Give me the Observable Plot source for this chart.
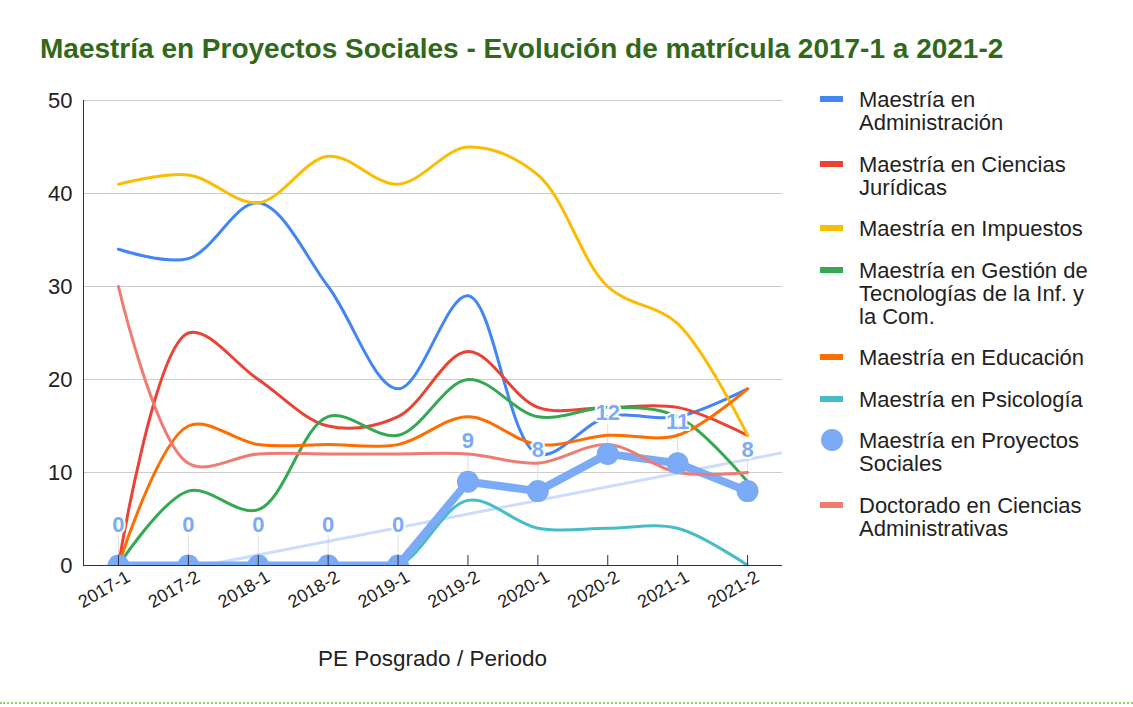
<!DOCTYPE html>
<html><head><meta charset="utf-8">
<script src="https://cdn.jsdelivr.net/npm/d3@7"></script>
<script src="https://cdn.jsdelivr.net/npm/@observablehq/plot@0.6"></script>
<style>
body{margin:0;background:#fff;font-family:Arial,"Liberation Sans",sans-serif;}
#wrap{position:relative;width:1133px;height:707px;overflow:hidden;}
#title{position:absolute;left:40px;top:35px;font-size:28px;font-weight:bold;color:#31691b;white-space:nowrap;line-height:1;}
#chart{position:absolute;left:0;top:80px;}
#xlabel{position:absolute;left:83px;width:699px;top:648px;text-align:center;font-size:22.5px;color:#222;line-height:1;}
#legend{position:absolute;left:820px;top:88px;}
.item{position:relative;padding-left:39px;line-height:23px;font-size:22px;color:#222;width:236px;margin-bottom:18.5px;}
.sw{position:absolute;left:0;top:8px;width:23px;height:6px;}
.dot{position:absolute;left:1px;top:0px;width:22px;height:22px;border-radius:50%;}
#dots{position:absolute;left:0;top:702px;width:1133px;border-top:2px dotted #9ccc65;}
</style>
</head><body>
<div id="wrap">
  <div id="title"></div>
  <div id="chart"></div>
  <div id="xlabel"></div>
  <div id="legend"></div>
  <div id="dots"></div>
</div>
<script>
const chartTitle = "Maestría en Proyectos Sociales - Evolución de matrícula 2017-1 a 2021-2";
const xTitle = "PE Posgrado / Periodo";
const periods = ["2017-1","2017-2","2018-1","2018-2","2019-1","2019-2","2020-1","2020-2","2021-1","2021-2"];
const seriesNames = [
  "Maestría en Administración",
  "Maestría en Ciencias Jurídicas",
  "Maestría en Impuestos",
  "Maestría en Gestión de Tecnologías de la Inf. y la Com.",
  "Maestría en Educación",
  "Maestría en Psicología",
  "Maestría en Proyectos Sociales",
  "Doctorado en Ciencias Administrativas"
];
const seriesColors = ["#4285f4","#ea4335","#fbbc04","#34a853","#ff6d01","#46bdc6","#7baaf7","#f07b72"];
const administracion = [34,33,39,30,19,29,12,16,16,19];
const juridicas      = [0,25,20,15,16,23,17,17,17,14];
const impuestos      = [41,42,39,44,41,45,42,30,26,14];
const gestionTIC     = [0,8,6,16,14,20,16,17,16,9];
const educacion      = [0,15,13,13,13,16,13,14,14,19];
const psicologia     = [0,0,0,0,0,7,4,4,4,0];
const proyectos      = [0,0,0,0,0,9,8,12,11,8];
const doctorado      = [30,11,12,12,12,12,11,13,10,10];
const yTicks = [0,10,20,30,40,50];

const values = [administracion, juridicas, impuestos, gestionTIC, educacion, psicologia, proyectos, doctorado];
const PROY = 6;
const rows = seriesNames.flatMap((name, s) => values[s].map((v, i) => ({name, s, i, v})));
const idx = periods.map((_, i) => i);
const proyRows = rows.filter(d => d.s === PROY);

// linear trendline for Proyectos Sociales
const mx = d3.mean(idx), my = d3.mean(proyectos);
const slope = d3.sum(idx, i => (i - mx) * (proyectos[i] - my)) / d3.sum(idx, i => (i - mx) ** 2);
const icpt = my - slope * mx;
const trend = [-0.5, periods.length - 0.5].map(x => ({x, y: icpt + slope * x}));

const marks = [
  Plot.ruleY(yTicks.filter(t => t > 0), {stroke: "#cccccc"}),
  Plot.ruleX(proyRows, {x: "i", y1: "v", y2: "v", insetTop: -30, stroke: "#dddddd"}),
  Plot.line(trend, {x: "x", y: "y", stroke: seriesColors[PROY], strokeOpacity: 0.4, strokeWidth: 3, clip: true})
];
seriesNames.forEach((name, s) => {
  const data = rows.filter(d => d.s === s);
  if (s === PROY) {
    marks.push(Plot.line(data, {x: "i", y: "v", stroke: seriesColors[s], strokeWidth: 8, clip: true}));
  } else {
    marks.push(Plot.line(data, {x: "i", y: "v", stroke: seriesColors[s], strokeWidth: 3, curve: "catmull-rom", clip: true}));
  }
});
marks.push(
  Plot.dot(proyRows, {x: "i", y: "v", r: 11, fill: seriesColors[PROY], clip: true}),
  Plot.text(proyRows, {x: "i", y: "v", text: d => String(d.v), dy: -41, fill: seriesColors[PROY],
    stroke: "white", strokeWidth: 4, paintOrder: "stroke", fontSize: 22, fontWeight: "bold"}),
  Plot.ruleY([0], {stroke: "#333"}),
  Plot.ruleX([-0.5], {stroke: "#333"}),
  Plot.ruleX(idx, {x: d => d, y1: d => 0, y2: d => 0, insetTop: -10, stroke: "#333"}),
  Plot.axisY({ticks: yTicks, tickSize: 0, tickPadding: 11, fontSize: 22}),
  Plot.axisX({ticks: idx, tickFormat: i => periods[i], tickSize: 0, tickRotate: -30, tickPadding: 10, dx: 10, fontSize: 18, label: null})
);

const chart = Plot.plot({
  width: 800, height: 600,
  marginLeft: 83, marginRight: 18, marginTop: 20, marginBottom: 115,
  x: {domain: [-0.5, periods.length - 0.5]},
  y: {domain: [0, 50]},
  style: {fontFamily: "Arial, 'Liberation Sans', sans-serif", color: "#222", background: "transparent"},
  marks
});
document.getElementById("chart").appendChild(chart);
document.getElementById("title").textContent = chartTitle;
document.getElementById("xlabel").textContent = xTitle;

const legend = document.getElementById("legend");
seriesNames.forEach((name, s) => {
  const item = document.createElement("div");
  item.className = "item";
  const sw = document.createElement("div");
  sw.className = s === PROY ? "dot" : "sw";
  sw.style.background = seriesColors[s];
  item.appendChild(sw);
  item.appendChild(document.createTextNode(name));
  legend.appendChild(item);
});
</script>
</body></html>
